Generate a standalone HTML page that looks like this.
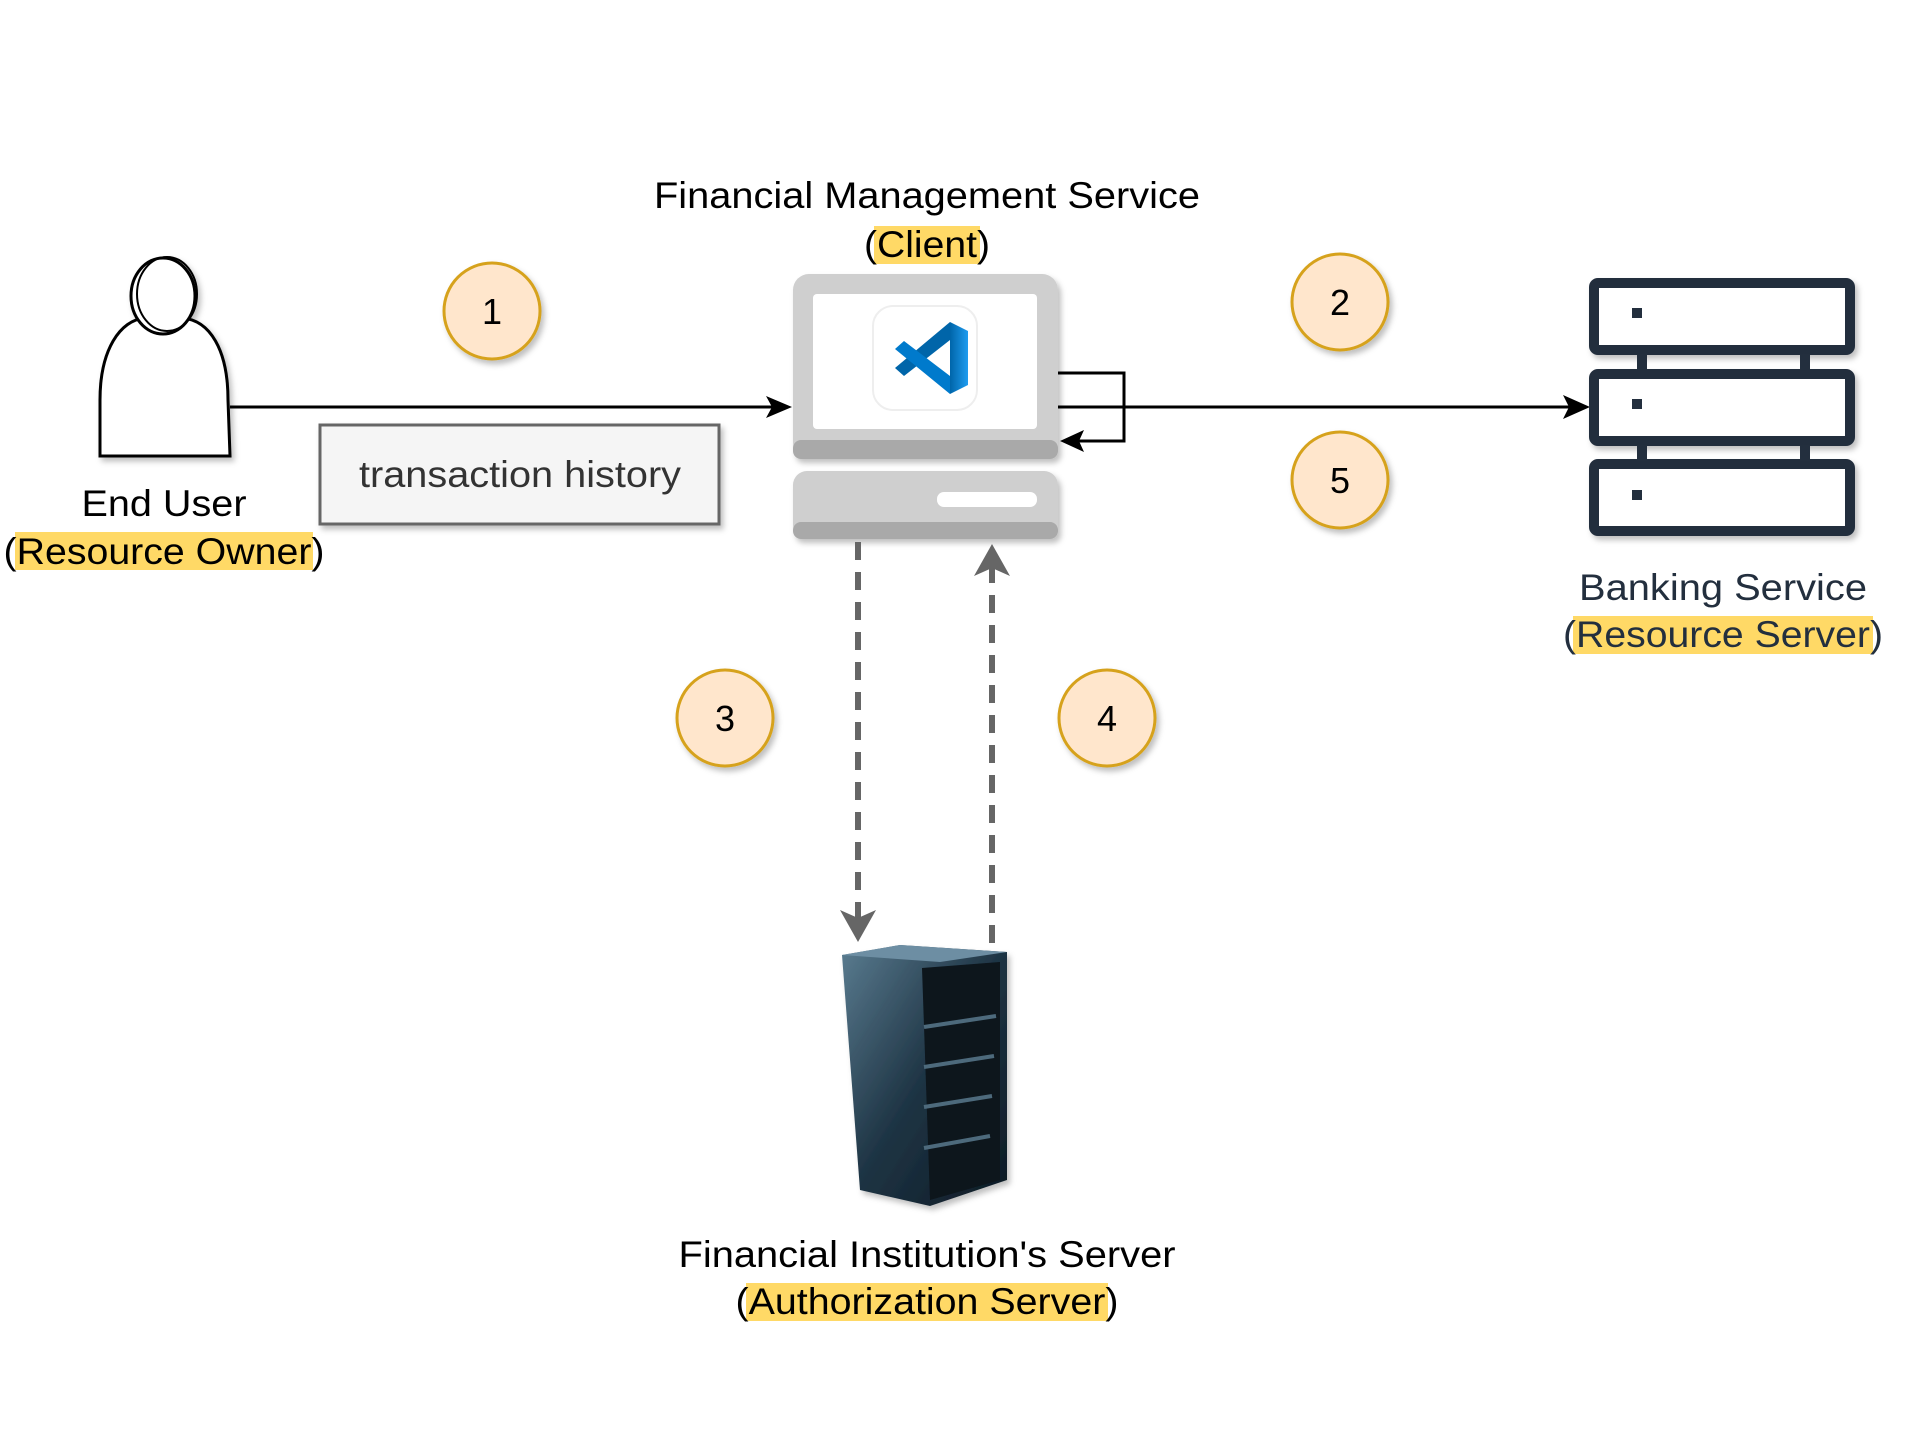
<!DOCTYPE html>
<html><head><meta charset="utf-8"><style>
html,body{margin:0;padding:0;background:#fff;}
svg{display:block;}
text{font-family:"Liberation Sans",Arial,sans-serif;}
</style></head><body>
<svg width="1920" height="1440" viewBox="0 0 1920 1440" xmlns="http://www.w3.org/2000/svg">
<defs>
<filter id="sh" x="-20%" y="-20%" width="140%" height="140%"><feDropShadow dx="3" dy="4" stdDeviation="3" flood-color="#000" flood-opacity="0.25"/></filter>
<linearGradient id="srv" x1="0" y1="0" x2="1" y2="1"><stop offset="0" stop-color="#5a7c90"/><stop offset="0.5" stop-color="#1e3444"/><stop offset="1" stop-color="#0d1a24"/></linearGradient>
<linearGradient id="vs1" x1="0" y1="0" x2="1" y2="0"><stop offset="0" stop-color="#0065a9"/><stop offset="1" stop-color="#1f9cf0"/></linearGradient>
</defs>

<!-- Person -->
<g fill="#fff" stroke="#000" stroke-width="3" filter="url(#sh)">
<path d="M100 456 L100 400 C100 350 120 320 145 318 L182 318 C210 320 228 350 228 400 L230 456 Z"/>
<ellipse cx="163" cy="296" rx="32" ry="38"/>
<ellipse cx="167" cy="294" rx="30" ry="37" fill="none" stroke-width="2"/>
</g>
<text x="164" y="516" font-size="37" text-anchor="middle" fill="#000" textLength="165" lengthAdjust="spacingAndGlyphs">End User</text>
<rect x="15" y="532" width="298" height="38" fill="#ffd966"/>
<text x="164" y="564" font-size="37" text-anchor="middle" fill="#000" textLength="321" lengthAdjust="spacingAndGlyphs">(Resource Owner)</text>

<!-- Arrow 1 -->
<line x1="230" y1="407" x2="775" y2="407" stroke="#000" stroke-width="3"/>
<path d="M792 407 L766 396 L772 407 L766 418 Z" fill="#000"/>

<!-- transaction history -->
<rect x="320" y="425" width="399" height="99" fill="#f5f5f5" stroke="#666" stroke-width="3" filter="url(#sh)"/>
<text x="520" y="487" font-size="37" text-anchor="middle" fill="#333" textLength="322" lengthAdjust="spacingAndGlyphs">transaction history</text>

<!-- Title -->
<text x="927" y="208" font-size="37" text-anchor="middle" fill="#000" textLength="546" lengthAdjust="spacingAndGlyphs">Financial Management Service</text>
<rect x="874" y="226" width="106" height="38" fill="#ffd966"/>
<text x="927" y="257" font-size="37" text-anchor="middle" fill="#000" textLength="126" lengthAdjust="spacingAndGlyphs">(Client)</text>

<!-- Computer -->
<g filter="url(#sh)">
<rect x="793" y="274" width="265" height="185" rx="16" fill="#cfcfcf"/>
<rect x="793" y="440" width="265" height="19" rx="8" fill="#a9a9a9"/>
<rect x="813" y="294" width="224" height="135" rx="4" fill="#fff"/>
<rect x="793" y="471" width="265" height="68" rx="14" fill="#cfcfcf"/>
<rect x="793" y="522" width="265" height="17" rx="8" fill="#a9a9a9"/>
<rect x="937" y="492" width="100" height="15" rx="7" fill="#fff"/>
</g>
<rect x="873" y="306" width="104" height="104" rx="20" fill="#fff" stroke="#eee" stroke-width="2"/>
<path d="M950 322 L968 331 L968 385 L950 394 Z" fill="url(#vs1)"/>
<path d="M950 322 L895 368 L904 376 L950 340 Z" fill="#0065a9"/>
<path d="M950 394 L895 349 L904 341 L950 376 Z" fill="#007acc"/>

<!-- Loop + arrow 2 -->
<polyline points="1058,373 1124,373 1124,441 1075,441" fill="none" stroke="#000" stroke-width="3"/>
<path d="M1060 441 L1084 430 L1079 441 L1084 452 Z" fill="#000"/>
<line x1="1058" y1="407" x2="1572" y2="407" stroke="#000" stroke-width="3"/>
<path d="M1590 407 L1563 395 L1569 407 L1563 419 Z" fill="#000"/>

<!-- Circles -->
<g fill="#ffe6cc" stroke="#d6a21e" stroke-width="3" filter="url(#sh)">
<circle cx="492" cy="311" r="48"/>
<circle cx="1340" cy="302" r="48"/>
<circle cx="1340" cy="480" r="48"/>
<circle cx="725" cy="718" r="48"/>
<circle cx="1107" cy="718" r="48"/>
</g>
<g font-size="36" text-anchor="middle" fill="#000">
<text x="492" y="324">1</text>
<text x="1340" y="315">2</text>
<text x="1340" y="493">5</text>
<text x="725" y="731">3</text>
<text x="1107" y="731">4</text>
</g>

<!-- Bank server -->
<g fill="#fff" stroke="#232f3e" stroke-width="10" filter="url(#sh)">
<rect x="1594" y="283" width="256" height="67" rx="4"/>
<rect x="1594" y="374" width="256" height="67" rx="4"/>
<rect x="1594" y="464" width="256" height="67" rx="4"/>
</g>
<g fill="#232f3e">
<rect x="1637" y="354" width="10" height="16"/><rect x="1800" y="354" width="10" height="16"/>
<rect x="1637" y="445" width="10" height="16"/><rect x="1800" y="445" width="10" height="16"/>
<rect x="1632" y="308" width="10" height="10"/>
<rect x="1632" y="399" width="10" height="10"/>
<rect x="1632" y="490" width="10" height="10"/>
</g>
<text x="1723" y="600" font-size="37" text-anchor="middle" fill="#232f3e" textLength="288" lengthAdjust="spacingAndGlyphs">Banking Service</text>
<rect x="1573" y="616" width="300" height="38" fill="#ffd966"/>
<text x="1723" y="647" font-size="37" text-anchor="middle" fill="#232f3e" textLength="320" lengthAdjust="spacingAndGlyphs">(Resource Server)</text>

<!-- Dashed lines -->
<line x1="858" y1="542" x2="858" y2="920" stroke="#666" stroke-width="6" stroke-dasharray="18,12"/>
<path d="M858 942 L840 910 L858 918 L876 910 Z" fill="#666"/>
<line x1="992" y1="943" x2="992" y2="565" stroke="#666" stroke-width="6" stroke-dasharray="18,12"/>
<path d="M992 544 L974 576 L992 568 L1010 576 Z" fill="#666"/>

<!-- Auth server -->
<g filter="url(#sh)">
<path d="M842 955 L900 945 L1007 952 L1007 1180 L930 1206 L860 1190 Z" fill="url(#srv)"/>
<path d="M842 955 L900 945 L1007 952 L940 962 Z" fill="#6d8ea3"/>
<path d="M922 968 L1000 962 L1000 1180 L930 1200 Z" fill="#0c151c"/>
<g stroke="#4d6a7c" stroke-width="4">
<line x1="924" y1="1027" x2="996" y2="1016"/>
<line x1="924" y1="1067" x2="994" y2="1056"/>
<line x1="924" y1="1107" x2="992" y2="1096"/>
<line x1="924" y1="1148" x2="990" y2="1136"/>
</g>
</g>
<text x="927" y="1267" font-size="37" text-anchor="middle" fill="#000" textLength="497" lengthAdjust="spacingAndGlyphs">Financial Institution's Server</text>
<rect x="746" y="1283" width="362" height="38" fill="#ffd966"/>
<text x="927" y="1314" font-size="37" text-anchor="middle" fill="#000" textLength="383" lengthAdjust="spacingAndGlyphs">(Authorization Server)</text>
</svg>
</body></html>
